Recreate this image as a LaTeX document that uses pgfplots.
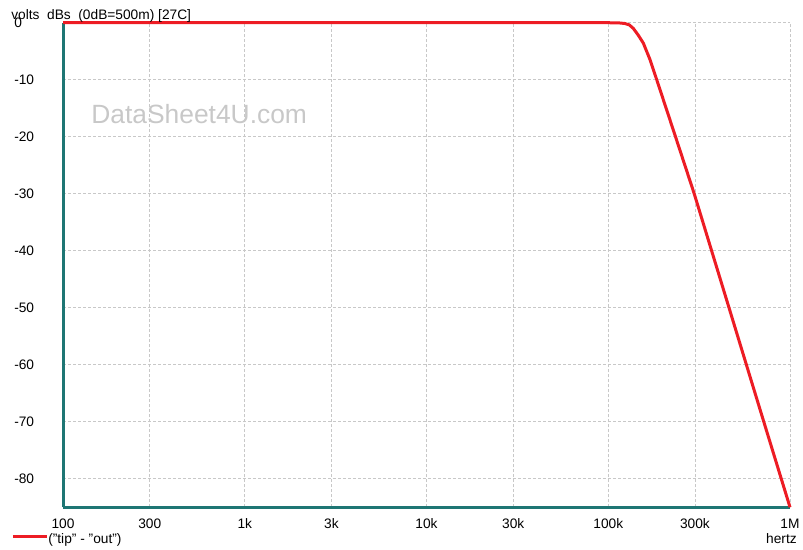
\documentclass[border=0pt]{standalone}
\usepackage{fontspec}
\setmainfont{Liberation Sans}
\usepackage{pgfplots}
\pgfplotsset{compat=1.18}
\definecolor{axteal}{RGB}{30,118,116}
\definecolor{curvered}{RGB}{237,28,36}
\definecolor{gridgray}{RGB}{200,200,200}
\definecolor{wmgray}{RGB}{200,200,200}
\begin{document}
\begin{tikzpicture}
\begin{axis}[
  scale only axis, width=545.25pt, height=363.45pt,
  xmode=log, xmin=100, xmax=1000000, ymin=-85, ymax=0,
  axis x line*=bottom, axis y line*=left,
  axis line style={-, draw=axteal, line width=2.25pt},
  xtick={100,300,1000,3000,10000,30000,100000,300000,1000000},
  xticklabels={100,300,1k,3k,10k,30k,100k,300k,1M},
  ytick={-80,-70,-60,-50,-40,-30,-20,-10,0},
  yticklabels={-80,-70,-60,-50,-40,-30,-20,-10,0},
  tick style={draw=none},
  grid=major,
  major grid style={draw=gridgray, line width=0.6pt, dash pattern=on 2.25pt off 1.5pt},
  tick label style={font=\fontsize{10.3pt}{12pt}\selectfont, inner sep=0pt},
  xticklabel style={anchor=base, yshift=-16.3pt},
  yticklabel style={anchor=west, xshift=-36.75pt},
  clip=false,
  legend style={draw=none, fill=none, inner sep=0pt,
    at={(axis description cs:-0.0715,-0.0675)}, anchor=west,
    font=\fontsize{10.3pt}{12pt}\selectfont,
    /tikz/every even column/.append style={column sep=0pt},
    /tikz/every odd column/.append style={column sep=0pt},
    nodes={inner sep=0pt}},
  legend image code/.code={\draw[#1] (0pt,2.3pt) -- (25.5pt,2.3pt);},
]
\addplot[curvered, line width=2.25pt, line join=round] table {
f db
100 0
90000 0
105000 -0.02
115000 -0.05
123600 -0.15
130600 -0.4
137300 -1.0
146300 -2.2
156000 -3.6
169800 -6.5
184800 -10
200800 -13.5
234400 -20
297100 -30
446700 -48.5
575400 -60
717300 -70
1000000 -85
};
\addlegendentry{("tip" - "out")}
\node[anchor=base west, inner sep=0pt, text=wmgray, font=\fontsize{19.8pt}{24pt}\selectfont] at (axis cs:142.6,-17.7) {DataSheet4U.com};
\node[anchor=base west, inner sep=0pt, font=\fontsize{10.3pt}{12pt}\selectfont, xshift=-39pt, yshift=2.55pt] at (rel axis cs:0,1) {volts\ \ dBs\ \ (0dB=500m) [27C]};
\node[anchor=base east, inner sep=0pt, font=\fontsize{10.3pt}{12pt}\selectfont, xshift=5.25pt, yshift=-27.5pt] at (rel axis cs:1,0) {hertz};
\end{axis}
\pgfresetboundingbox
\path[use as bounding box] ([xshift=-47.25pt,yshift=-32pt]current axis.south west) rectangle ([xshift=9.75pt,yshift=17pt]current axis.north east);
\end{tikzpicture}
\end{document}
